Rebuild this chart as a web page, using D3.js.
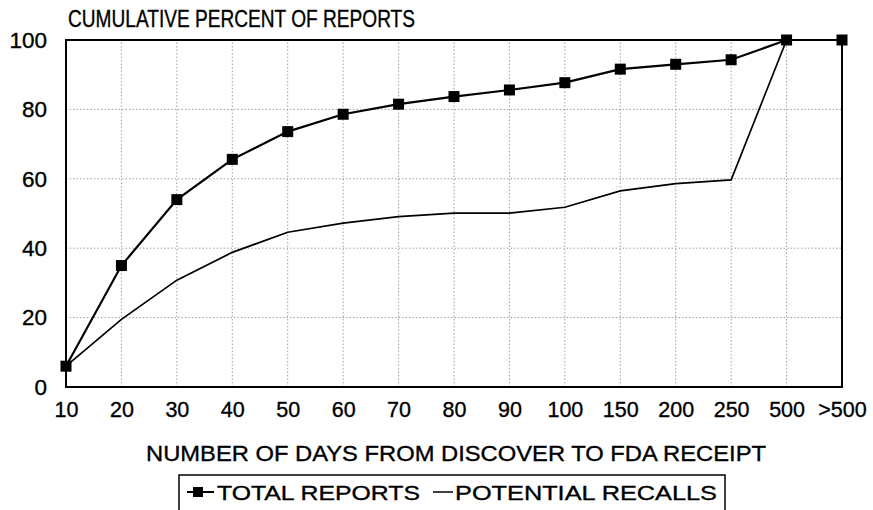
<!DOCTYPE html>
<html>
<head>
<meta charset="utf-8">
<script src="https://cdn.jsdelivr.net/npm/d3@7/dist/d3.min.js"></script>
<style>
  body { margin: 0; background: #fff; }
  svg { display: block; font-family: "Liberation Sans", Arial, sans-serif; }
  svg text { stroke: #000; stroke-width: 0.35px; }
</style>
</head>
<body>
<svg id="chart"></svg>
<script>
const categories = ["10", "20", "30", "40", "50", "60", "70", "80", "90", "100", "150", "200", "250", "500", ">500"];
const totalReports = [6, 35, 54, 65.6, 73.6, 78.6, 81.5, 83.7, 85.6, 87.7, 91.6, 93, 94.3, 100, 100];
const potentialRecalls = [6, 19.5, 30.8, 38.8, 44.6, 47.2, 49.1, 50.1, 50.1, 51.8, 56.5, 58.6, 59.7, 100, 100];
const yTicks = [0, 20, 40, 60, 80, 100];

const width = 873, height = 510;
const margin = { top: 40, right: 31, bottom: 123, left: 66 };

const svg = d3.select('#chart')
  .attr('width', width)
  .attr('height', height);

const x = d3.scalePoint()
  .domain(categories)
  .range([margin.left, width - margin.right]);

const y = d3.scaleLinear()
  .domain([0, 100])
  .range([height - margin.bottom, margin.top]);

// grid
const grid = svg.append('g').attr('stroke', '#888').attr('stroke-width', 0.8).attr('stroke-dasharray', '1.5,2');
grid.selectAll('line.v')
  .data(categories.slice(1, -1))
  .enter().append('line')
  .attr('x1', d => x(d)).attr('x2', d => x(d))
  .attr('y1', y(0)).attr('y2', y(100));
grid.selectAll('line.h')
  .data(yTicks.slice(1, -1))
  .enter().append('line')
  .attr('x1', x(categories[0])).attr('x2', x(categories[categories.length - 1]))
  .attr('y1', d => y(d)).attr('y2', d => y(d));

// frame
svg.append('rect')
  .attr('x', x(categories[0]))
  .attr('y', y(100))
  .attr('width', x(categories[categories.length - 1]) - x(categories[0]))
  .attr('height', y(0) - y(100))
  .attr('fill', 'none')
  .attr('stroke', '#000')
  .attr('stroke-width', 2);

// axes
svg.append('g')
  .attr('transform', `translate(0,${y(0)})`)
  .call(d3.axisBottom(x).tickSize(0).tickPadding(15))
  .call(g => g.select('.domain').remove())
  .call(g => g.selectAll('text').attr('font-size', 21.5).attr('fill', '#000')
    .attr('font-family', '"Liberation Sans", Arial, sans-serif'));

svg.append('g')
  .attr('transform', `translate(${margin.left},0)`)
  .call(d3.axisLeft(y).tickValues(yTicks).tickSize(0).tickPadding(19))
  .call(g => g.select('.domain').remove())
  .call(g => g.selectAll('text').attr('font-size', 22.5).attr('fill', '#000')
    .attr('font-family', '"Liberation Sans", Arial, sans-serif'));

const line = d3.line()
  .x((d, i) => x(categories[i]))
  .y(d => y(d));

svg.append('path')
  .datum(potentialRecalls)
  .attr('fill', 'none')
  .attr('stroke', '#000')
  .attr('stroke-width', 1.7)
  .attr('d', line);

svg.append('path')
  .datum(totalReports)
  .attr('fill', 'none')
  .attr('stroke', '#000')
  .attr('stroke-width', 2.2)
  .attr('d', line);

svg.selectAll('rect.marker')
  .data(totalReports)
  .enter().append('rect')
  .attr('class', 'marker')
  .attr('x', (d, i) => x(categories[i]) - 5.5)
  .attr('y', d => y(d) - 5.5)
  .attr('width', 11)
  .attr('height', 11)
  .attr('fill', '#000');

// titles
svg.append('text')
  .attr('x', 68).attr('y', 27)
  .attr('font-size', 23.5)
  .attr('textLength', 347)
  .attr('lengthAdjust', 'spacingAndGlyphs')
  .text('CUMULATIVE PERCENT OF REPORTS');

svg.append('text')
  .attr('x', 146).attr('y', 461)
  .attr('font-size', 22.5)
  .attr('textLength', 620)
  .attr('lengthAdjust', 'spacingAndGlyphs')
  .text('NUMBER OF DAYS FROM DISCOVER TO FDA RECEIPT');

// legend
const lg = svg.append('g');
lg.append('rect')
  .attr('x', 179).attr('y', 475)
  .attr('width', 546).attr('height', 40)
  .attr('fill', 'none').attr('stroke', '#000').attr('stroke-width', 1.5);
lg.append('line')
  .attr('x1', 187).attr('x2', 214).attr('y1', 492).attr('y2', 492)
  .attr('stroke', '#000').attr('stroke-width', 2);
lg.append('rect')
  .attr('x', 193).attr('y', 487).attr('width', 10).attr('height', 10).attr('fill', '#000');
lg.append('text')
  .attr('x', 217).attr('y', 499.5)
  .attr('font-size', 21)
  .attr('textLength', 203)
  .attr('lengthAdjust', 'spacingAndGlyphs')
  .text('TOTAL REPORTS');
lg.append('line')
  .attr('x1', 433).attr('x2', 453).attr('y1', 492).attr('y2', 492)
  .attr('stroke', '#000').attr('stroke-width', 1.5);
lg.append('text')
  .attr('x', 455).attr('y', 499.5)
  .attr('font-size', 21)
  .attr('textLength', 262)
  .attr('lengthAdjust', 'spacingAndGlyphs')
  .text('POTENTIAL RECALLS');
</script>
</body>
</html>
